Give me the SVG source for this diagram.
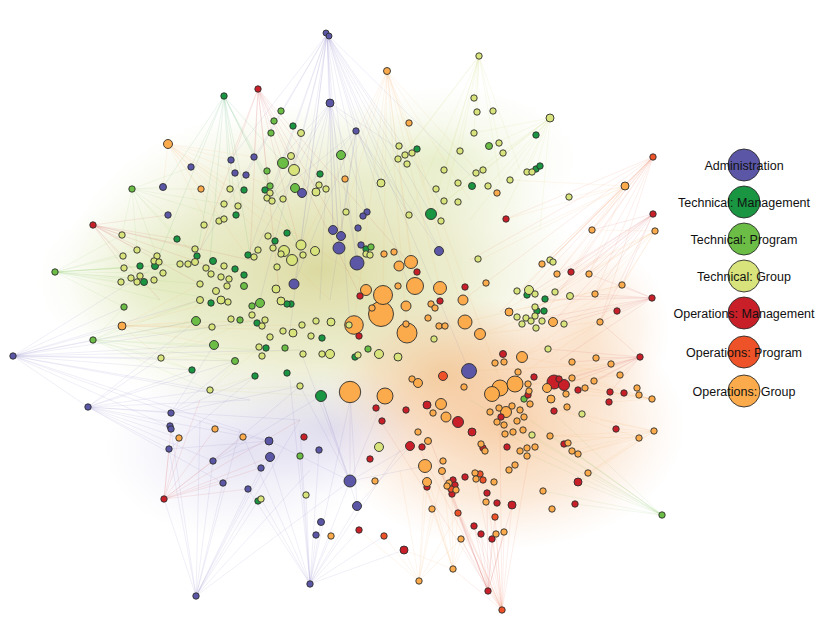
<svg xmlns="http://www.w3.org/2000/svg" width="831" height="630" viewBox="0 0 831 630">
<style>
circle{stroke:#2e2e2e;stroke-width:0.9}
.a{fill:#5b57a6}.tm{fill:#1a9541}.tp{fill:#6bbd45}.tg{fill:#d8e37c}.om{fill:#c91f28}.op{fill:#ee5228}.og{fill:#fbab4c}
.e{fill:none;stroke-width:0.45;stroke-opacity:0.22}
.ea{stroke:#6a5fb5}.etm{stroke:#1a9541}.etp{stroke:#7cc050}.etg{stroke:#c0cc50}.eom{stroke:#d03030}.eop{stroke:#ee6030}.eog{stroke:#f0a050}
.lg text{font-family:"Liberation Sans",Arial,sans-serif;font-size:12.5px;fill:#111;text-anchor:middle}
</style>
<defs>
<radialGradient id="gy"><stop offset="0" stop-color="#cbc874" stop-opacity="0.68"/><stop offset="0.55" stop-color="#d6d998" stop-opacity="0.45"/><stop offset="1" stop-color="#e0e4b0" stop-opacity="0"/></radialGradient>
<radialGradient id="go"><stop offset="0" stop-color="#f0a860" stop-opacity="0.55"/><stop offset="0.6" stop-color="#f4bc88" stop-opacity="0.32"/><stop offset="1" stop-color="#f8d0b0" stop-opacity="0"/></radialGradient>
<radialGradient id="gp"><stop offset="0" stop-color="#b4acd8" stop-opacity="0.35"/><stop offset="1" stop-color="#c8c0e4" stop-opacity="0"/></radialGradient>
<radialGradient id="gg"><stop offset="0" stop-color="#d0e09a" stop-opacity="0.4"/><stop offset="1" stop-color="#e0ecc0" stop-opacity="0"/></radialGradient>
</defs>
<rect width="831" height="630" fill="#ffffff"/>
<g id="haze">
<ellipse cx="320" cy="270" rx="255" ry="168" fill="url(#gy)"/>
<ellipse cx="160" cy="280" rx="125" ry="85" fill="url(#gg)"/>
<ellipse cx="440" cy="160" rx="140" ry="75" fill="url(#gg)"/>
<ellipse cx="505" cy="425" rx="180" ry="125" fill="url(#go)"/>
<ellipse cx="445" cy="375" rx="120" ry="85" fill="url(#go)" opacity="0.7"/>
<ellipse cx="590" cy="330" rx="80" ry="90" fill="url(#go)" opacity="0.5"/>
<ellipse cx="240" cy="450" rx="135" ry="90" fill="url(#gp)"/>
<ellipse cx="330" cy="430" rx="95" ry="65" fill="url(#gp)"/>
</g>
<g id="connectors">
<path class="e ea" d="M327 34L230 160M327 34L246 175M327 34L270 200M327 34L294 170M327 34L302 193M327 34L330 103M327 34L333 230M327 34L339 248M327 34L357 263M327 34L356 131M327 34L367 212M327 34L381 183M327 34L399 146M327 34L409 215M327 34L431 214M327 34L440 251M327 34L469 371M327 34L300 250M327 34L350 325M327 34L260 300M327 34L410 290M327 34L290 330M327 34L440 200M327 34L470 175M327 34L200 250M327 34L250 250"/>
<path class="e eog" d="M387 71L345 179M387 71L381 183M387 71L409 123M387 71L383 295M387 71L411 262M387 71L440 288M387 71L497 193M387 71L354 325M387 71L407 333M387 71L415 286M387 71L300 250M387 71L340 230M387 71L460 300M387 71L430 200M387 71L470 200M387 71L500 380"/>
<path class="e eom" d="M258 89L230 160M258 89L254 157M258 89L283 163M258 89L294 170M258 89L270 200M258 89L300 250M258 89L320 174M258 89L340 230M258 89L360 296M258 89L417 272M258 89L250 260M258 89L200 250M258 89L280 300"/>
<path class="e etm" d="M224 96L163 187M224 96L191 167M224 96L230 189M224 96L244 190M224 96L236 215M224 96L270 186M224 96L283 163M224 96L210 260M224 96L250 255M224 96L155 266M224 96L197 256M224 96L300 250M224 96L280 200"/>
<path class="e ea" d="M330 103L302 193M330 103L333 230M330 103L339 248M330 103L357 263M330 103L356 131M330 103L294 284M330 103L270 200M330 103L367 212M330 103L400 150M330 103L280 160M330 103L320 300M330 103L250 260"/>
<path class="e ea" d="M356 131L339 248M356 131L357 263M356 131L302 193M356 131L294 284M356 131L381 183M356 131L409 215M356 131L440 251M356 131L270 200M356 131L330 300"/>
<path class="e etg" d="M479 56L474 98M479 56L477 112M479 56L460 151M479 56L474 133M479 56L445 170M479 56L499 143M479 56L431 214M479 56L409 215M479 56L381 183M479 56L520 170M479 56L440 220M479 56L500 180M479 56L400 160"/>
<path class="e etg" d="M550 118L474 133M550 118L489 146M550 118L503 153M550 118L527 172M550 118L536 169M550 118L488 186M550 118L458 183M550 118L510 180M550 118L445 201M550 118L430 214M550 118L470 220M550 118L536 135M550 118L500 220M550 118L540 230"/>
<path class="e eop" d="M653 157L592 230M653 157L625 186M653 157L589 274M653 157L557 274M653 157L542 264M653 157L550 260M653 157L506 219M653 157L571 272M653 157L595 294M653 157L530 290M653 157L500 312M653 157L463 300M653 157L540 320M653 157L600 322M653 157L470 260"/>
<path class="e eog" d="M625 186L592 230M625 186L569 197M625 186L542 264M625 186L557 274M625 186L506 219M625 186L510 180M625 186L589 274M625 186L550 260M625 186L520 290M625 186L480 260M625 186L530 230M625 186L570 272"/>
<path class="e eom" d="M653 214L592 230M653 214L589 274M653 214L571 272M653 214L595 294M653 214L557 274M653 214L622 285M653 214L545 299M653 214L535 310M653 214L600 322M653 214L553 322M653 214L520 300"/>
<path class="e eog" d="M655 231L592 230M655 231L589 274M655 231L571 272M655 231L595 294M655 231L622 285M655 231L545 299M655 231L535 310M655 231L600 322M655 231L553 322M655 231L500 312"/>
<path class="e eom" d="M652 298L622 285M652 298L600 322M652 298L617 311M652 298L595 294M652 298L564 324M652 298L553 322M652 298L589 274M652 298L570 296M652 298L545 300M652 298L530 320M652 298L560 360"/>
<path class="e eog" d="M622 285L553 322M622 285L509 312M622 285L480 334M622 285L522 357M622 285L465 322M600 322L522 357M600 322L480 334M600 322L500 388M611 364L515 384M611 364L492 394M611 364L469 371M620 375L500 388M620 375L522 357"/>
<path class="e eom" d="M640 357L611 364M640 357L596 358M640 357L620 375M640 357L594 381M640 357L572 362M640 357L564 385M640 357L554 382M640 357L572 378M640 357L610 392M640 357L548 349M640 357L600 322M640 357L580 390"/>
<path class="e eog" d="M652 399L637 388M652 399L624 393M652 399L610 392M652 399L609 402M652 399L585 388M652 399L572 378M652 399L566 394M652 399L554 382M652 399L594 381M652 399L578 390"/>
<path class="e eog" d="M654 431L616 429M654 431L588 473M654 431L578 454M654 431L572 451M654 431L568 443M654 431L550 436M654 431L578 482M654 431L600 420M654 431L560 410M639 438L588 473M639 438L578 454M639 438L550 436M639 438L560 410"/>
<path class="e etp" d="M662 515L578 482M662 515L588 473M662 515L550 436M662 515L572 451M662 515L532 435M662 515L543 491M662 515L575 504M662 515L520 450M662 515L500 430M662 515L550 410M662 515L470 400M662 515L530 420"/>
<path class="e eop" d="M502 610L488 591M502 610L453 569M502 610L474 526M502 610L481 534M502 610L492 539M502 610L496 534M502 610L504 532M502 610L461 539M502 610L458 513M502 610L495 517M502 610L512 505M502 610L487 493M502 610L452 494M502 610L475 473M502 610L440 470M502 610L420 450M502 610L500 430M502 610L530 450M502 610L380 420"/>
<path class="e eom" d="M488 591L474 526M488 591L481 534M488 591L492 539M488 591L461 539M488 591L458 513M488 591L495 517M488 591L512 505M488 591L487 493M488 591L504 532M488 591L452 494M488 591L440 470M488 591L430 440"/>
<path class="e eog" d="M453 569L461 539M453 569L458 513M453 569L452 494M453 569L432 509M453 569L427 487M453 569L443 472M453 569L425 466M453 569L474 526M453 569L404 550M453 569L420 470"/>
<path class="e eog" d="M419 581L404 550M419 581L432 509M419 581L427 487M419 581L443 472M419 581L461 539M419 581L458 513M419 581L384 536M419 581L359 530M419 581L425 466M419 581L400 470"/>
<path class="e ea" d="M310 584L321 522M310 584L316 535M310 584L331 536M310 584L357 506M310 584L350 481M310 584L359 530M310 584L384 536M310 584L306 495M310 584L300 456M310 584L261 499M310 584L248 489M310 584L270 457M310 584L319 450M310 584L350 400M310 584L300 430M310 584L400 450M310 584L404 550M310 584L290 380M310 584L240 430"/>
<path class="e ea" d="M350 481L300 386M350 481L350 392M350 481L385 396M350 481L321 396M350 481L410 446M350 481L270 441M350 481L425 466M350 481L300 350M357 506L350 392M357 506L410 446M357 506L321 396"/>
<path class="e ea" d="M196 596L169 449M196 596L171 429M196 596L213 461M196 596L223 483M196 596L248 489M196 596L258 501M196 596L261 468M196 596L164 499M196 596L270 457M196 596L310 470M196 596L350 481M196 596L240 430M196 596L300 420M196 596L200 420"/>
<path class="e eom" d="M164 499L169 449M164 499L171 429M164 499L213 461M164 499L223 483M164 499L248 489M164 499L179 438M164 499L215 429M164 499L243 437M164 499L270 457M164 499L300 420M164 499L200 400M164 499L260 468"/>
<path class="e ea" d="M13 356L88 407M13 356L93 340M13 356L124 307M13 356L122 326M13 356L161 358M13 356L171 413M13 356L192 370M13 356L196 321M13 356L210 390M13 356L200 300M13 356L214 345M13 356L235 361M13 356L250 400M13 356L170 427M13 356L300 350M13 356L240 430M13 356L260 320M13 356L150 270"/>
<path class="e ea" d="M88 407L169 449M88 407L171 413M88 407L170 427M88 407L161 358M88 407L192 370M88 407L210 390M88 407L213 461M88 407L223 483M88 407L196 321M88 407L250 400M88 407L270 441M88 407L300 420M88 407L235 361M88 407L179 438"/>
<path class="e ea" d="M171 413L235 361M171 413L255 376M171 413L270 441M171 413L300 386M171 413L214 345M169 449L255 376M169 449L269 441M213 461L269 441M213 461L300 386M213 461L321 396"/>
<path class="e etp" d="M55 272L121 282M55 272L124 268M55 272L131 278M55 272L122 235M55 272L137 250M55 272L123 256M55 272L140 266M55 272L155 266M55 272L163 273M55 272L144 282M55 272L124 307M55 272L200 284M55 272L180 264M55 272L220 300M55 272L160 300"/>
<path class="e eom" d="M93 225L122 235M93 225L123 256M93 225L137 250M93 225L157 256M93 225L168 215M93 225L124 268M93 225L177 239M93 225L195 249M93 225L200 284M93 225L220 270M93 225L160 300M93 225L250 260"/>
<path class="e eog" d="M168 144L191 167M168 144L201 189M168 144L163 187M168 144L230 189M168 144L231 160M168 144L244 190M168 144L254 157M168 144L224 204M168 144L270 186M168 144L300 250M168 144L330 300M168 144L383 295M168 144L250 260M168 144L210 230"/>
<path class="e etp" d="M132 189L163 187M132 189L168 215M132 189L191 167M132 189L201 189M132 189L177 239M132 189L224 204M132 189L137 250M132 189L157 256M132 189L122 235M132 189L200 260M132 189L230 220"/>
<path class="e eog" d="M122 326L161 358M122 326L196 321M122 326L200 300M122 326L212 327M122 326L214 345M122 326L200 284M122 326L221 300M122 326L260 320M122 326L300 330M122 326L354 325"/>
<path class="e etp" d="M93 340L161 358M93 340L196 321M93 340L212 327M93 340L214 345M93 340L192 370M93 340L210 390M93 340L200 300M93 340L124 307M93 340L122 326M93 340L235 361M93 340L260 350"/>
<path class="e etg" d="M161 358L200 300M161 358L250 320M161 358L212 327M161 358L192 370M161 358L235 361M161 358L300 350M210 390L255 376M210 390L300 386M210 390L235 361M210 390L260 347M210 390L321 396"/>
</g>
<g id="nodes">
<g id="n1"><circle class="og" cx="381" cy="314" r="12.5"/></g>
<g id="n2"><circle class="og" cx="350" cy="392" r="10.7"/></g>
<g id="n3"><circle class="og" cx="407" cy="333" r="10"/></g>
<g id="n4"><circle class="og" cx="383" cy="295" r="9.5"/></g>
<g id="n5"><circle class="og" cx="354" cy="325" r="9.3"/></g>
<g id="n6"><circle class="og" cx="415" cy="286" r="8.5"/></g>
<g id="n7"><circle class="og" cx="500" cy="388" r="8"/></g>
<g id="n8"><circle class="og" cx="515" cy="384" r="8"/></g>
<g id="n9"><circle class="og" cx="385" cy="396" r="8"/></g>
<g id="n10"><circle class="og" cx="492" cy="394" r="7.5"/></g>
<g id="n11"><circle class="og" cx="465" cy="322" r="7"/></g>
<g id="n12"><circle class="og" cx="411" cy="262" r="6.5"/></g>
<g id="n13"><circle class="og" cx="440" cy="288" r="6.5"/></g>
<g id="n14"><circle class="og" cx="425" cy="466" r="6.5"/></g>
<g id="n15"><circle class="og" cx="366" cy="290" r="5.5"/></g>
<g id="n16"><circle class="og" cx="441" cy="404" r="5.5"/></g>
<g id="n17"><circle class="og" cx="480" cy="334" r="5.5"/></g>
<g id="n18"><circle class="og" cx="522" cy="357" r="5.5"/></g>
<g id="n19"><circle class="og" cx="506" cy="412" r="5.5"/></g>
<g id="n20"><circle class="og" cx="399" cy="266" r="5"/></g>
<g id="n21"><circle class="og" cx="406" cy="306" r="5"/></g>
<g id="n22"><circle class="og" cx="463" cy="300" r="5"/></g>
<g id="n23"><circle class="og" cx="446" cy="417" r="5"/></g>
<g id="n24"><circle class="a" cx="469" cy="371" r="7.5"/></g>
<g id="n25"><circle class="a" cx="357" cy="263" r="7"/></g>
<g id="n26"><circle class="a" cx="339" cy="248" r="6"/></g>
<g id="n27"><circle class="a" cx="350" cy="481" r="6"/></g>
<g id="n28"><circle class="a" cx="294" cy="284" r="5"/></g>
<g id="n29"><circle class="om" cx="554" cy="382" r="7"/></g>
<g id="n30"><circle class="om" cx="564" cy="385" r="5.5"/></g>
<g id="n31"><circle class="om" cx="458" cy="422" r="5.5"/></g>
<g id="n32"><circle class="tm" cx="431" cy="214" r="5.5"/></g>
<g id="n33"><circle class="tm" cx="321" cy="396" r="5.5"/></g>
<g id="n34"><circle class="tp" cx="283" cy="163" r="5.5"/></g>
<g id="n35"><circle class="tg" cx="294" cy="170" r="5.5"/></g>
<g id="n36"><circle class="tg" cx="284" cy="251" r="5.5"/></g>
<g id="n37"><circle class="tg" cx="292" cy="260" r="5.5"/></g>
<g id="n38"><circle class="tg" cx="301" cy="245" r="5"/></g>
<g id="n39"><circle class="a" cx="326" cy="33" r="3"/></g>
<g id="n40"><circle class="a" cx="329" cy="36" r="3"/></g>
<g id="n41"><circle class="a" cx="330" cy="103" r="4"/></g>
<g id="n42"><circle class="a" cx="356" cy="131" r="3.2"/></g>
<g id="n43"><circle class="a" cx="191" cy="167" r="3.2"/></g>
<g id="n44"><circle class="a" cx="163" cy="187" r="3.5"/></g>
<g id="n45"><circle class="a" cx="168" cy="215" r="3.2"/></g>
<g id="n46"><circle class="a" cx="231" cy="160" r="3.2"/></g>
<g id="n47"><circle class="a" cx="254" cy="157" r="3.2"/></g>
<g id="n48"><circle class="a" cx="235" cy="173" r="3.2"/></g>
<g id="n49"><circle class="a" cx="246" cy="175" r="3.2"/></g>
<g id="n50"><circle class="a" cx="302" cy="193" r="4.5"/></g>
<g id="n51"><circle class="a" cx="367" cy="212" r="3.2"/></g>
<g id="n52"><circle class="a" cx="363" cy="216" r="3.2"/></g>
<g id="n53"><circle class="a" cx="333" cy="230" r="4.5"/></g>
<g id="n54"><circle class="a" cx="341" cy="236" r="4.5"/></g>
<g id="n55"><circle class="a" cx="358" cy="228" r="3.2"/></g>
<g id="n56"><circle class="a" cx="361" cy="245" r="3.2"/></g>
<g id="n57"><circle class="a" cx="439" cy="251" r="4.5"/></g>
<g id="n58"><circle class="a" cx="13" cy="356" r="3.2"/></g>
<g id="n59"><circle class="a" cx="88" cy="407" r="3.2"/></g>
<g id="n60"><circle class="a" cx="171" cy="413" r="3.2"/></g>
<g id="n61"><circle class="a" cx="170" cy="426" r="3.2"/></g>
<g id="n62"><circle class="a" cx="171" cy="429" r="3.2"/></g>
<g id="n63"><circle class="a" cx="169" cy="449" r="3.2"/></g>
<g id="n64"><circle class="a" cx="213" cy="461" r="3.2"/></g>
<g id="n65"><circle class="a" cx="223" cy="483" r="3.2"/></g>
<g id="n66"><circle class="a" cx="196" cy="596" r="3.2"/></g>
<g id="n67"><circle class="a" cx="269" cy="441" r="4"/></g>
<g id="n68"><circle class="a" cx="270" cy="457" r="4.5"/></g>
<g id="n69"><circle class="a" cx="319" cy="450" r="3.2"/></g>
<g id="n70"><circle class="a" cx="261" cy="468" r="3.2"/></g>
<g id="n71"><circle class="a" cx="248" cy="489" r="3.2"/></g>
<g id="n72"><circle class="a" cx="357" cy="506" r="4.5"/></g>
<g id="n73"><circle class="a" cx="321" cy="522" r="3.5"/></g>
<g id="n74"><circle class="a" cx="316" cy="535" r="3.2"/></g>
<g id="n75"><circle class="a" cx="310" cy="584" r="3.2"/></g>
<g id="n76"><circle class="tm" cx="224" cy="96" r="3.2"/></g>
<g id="n77"><circle class="tm" cx="293" cy="126" r="3.2"/></g>
<g id="n78"><circle class="tm" cx="417" cy="149" r="3.2"/></g>
<g id="n79"><circle class="tm" cx="320" cy="174" r="3.2"/></g>
<g id="n80"><circle class="tm" cx="265" cy="190" r="3.2"/></g>
<g id="n81"><circle class="tm" cx="244" cy="190" r="3.2"/></g>
<g id="n82"><circle class="tm" cx="236" cy="215" r="3.2"/></g>
<g id="n83"><circle class="tm" cx="536" cy="135" r="3.2"/></g>
<g id="n84"><circle class="tm" cx="536" cy="169" r="3.2"/></g>
<g id="n85"><circle class="tm" cx="540" cy="166" r="3.2"/></g>
<g id="n86"><circle class="tm" cx="472" cy="186" r="3.5"/></g>
<g id="n87"><circle class="tm" cx="177" cy="239" r="3.2"/></g>
<g id="n88"><circle class="tm" cx="197" cy="256" r="3.2"/></g>
<g id="n89"><circle class="tm" cx="213" cy="261" r="3.5"/></g>
<g id="n90"><circle class="tm" cx="155" cy="266" r="3.5"/></g>
<g id="n91"><circle class="tm" cx="140" cy="266" r="3.2"/></g>
<g id="n92"><circle class="tm" cx="144" cy="282" r="3.5"/></g>
<g id="n93"><circle class="tm" cx="211" cy="303" r="3.2"/></g>
<g id="n94"><circle class="tm" cx="192" cy="370" r="3.2"/></g>
<g id="n95"><circle class="tm" cx="287" cy="233" r="3.2"/></g>
<g id="n96"><circle class="tm" cx="275" cy="241" r="3.2"/></g>
<g id="n97"><circle class="tm" cx="248" cy="255" r="3.2"/></g>
<g id="n98"><circle class="tm" cx="235" cy="269" r="3.2"/></g>
<g id="n99"><circle class="tm" cx="244" cy="275" r="3.2"/></g>
<g id="n100"><circle class="tm" cx="366" cy="249" r="3.2"/></g>
<g id="n101"><circle class="tm" cx="257" cy="323" r="3.2"/></g>
<g id="n102"><circle class="tm" cx="291" cy="304" r="3.2"/></g>
<g id="n103"><circle class="tm" cx="287" cy="304" r="3.2"/></g>
<g id="n104"><circle class="tm" cx="322" cy="338" r="3.2"/></g>
<g id="n105"><circle class="tm" cx="266" cy="348" r="3.2"/></g>
<g id="n106"><circle class="tm" cx="355" cy="357" r="3.2"/></g>
<g id="n107"><circle class="tm" cx="255" cy="376" r="3.2"/></g>
<g id="n108"><circle class="tm" cx="287" cy="373" r="3.2"/></g>
<g id="n109"><circle class="tm" cx="527" cy="295" r="3.2"/></g>
<g id="n110"><circle class="tm" cx="545" cy="299" r="3.2"/></g>
<g id="n111"><circle class="tm" cx="537" cy="311" r="3.2"/></g>
<g id="n112"><circle class="tm" cx="544" cy="311" r="3.2"/></g>
<g id="n113"><circle class="tm" cx="258" cy="501" r="3.2"/></g>
<g id="n114"><circle class="tp" cx="132" cy="189" r="3.2"/></g>
<g id="n115"><circle class="tp" cx="281" cy="111" r="3.2"/></g>
<g id="n116"><circle class="tp" cx="274" cy="121" r="3.2"/></g>
<g id="n117"><circle class="tp" cx="271" cy="133" r="3.2"/></g>
<g id="n118"><circle class="tp" cx="267" cy="171" r="3.2"/></g>
<g id="n119"><circle class="tp" cx="341" cy="155" r="4.5"/></g>
<g id="n120"><circle class="tp" cx="270" cy="186" r="3.2"/></g>
<g id="n121"><circle class="tp" cx="295" cy="188" r="4.5"/></g>
<g id="n122"><circle class="tp" cx="489" cy="146" r="3.5"/></g>
<g id="n123"><circle class="tp" cx="55" cy="272" r="3.2"/></g>
<g id="n124"><circle class="tp" cx="124" cy="307" r="3.2"/></g>
<g id="n125"><circle class="tp" cx="196" cy="321" r="4.5"/></g>
<g id="n126"><circle class="tp" cx="93" cy="340" r="3.2"/></g>
<g id="n127"><circle class="tp" cx="214" cy="345" r="4.5"/></g>
<g id="n128"><circle class="tp" cx="371" cy="247" r="3.2"/></g>
<g id="n129"><circle class="tp" cx="244" cy="286" r="3.5"/></g>
<g id="n130"><circle class="tp" cx="260" cy="303" r="4.5"/></g>
<g id="n131"><circle class="tp" cx="252" cy="306" r="3.2"/></g>
<g id="n132"><circle class="tp" cx="240" cy="320" r="3.2"/></g>
<g id="n133"><circle class="tp" cx="285" cy="348" r="3.2"/></g>
<g id="n134"><circle class="tp" cx="235" cy="361" r="3.5"/></g>
<g id="n135"><circle class="tp" cx="368" cy="349" r="3.2"/></g>
<g id="n136"><circle class="tp" cx="300" cy="456" r="3.2"/></g>
<g id="n137"><circle class="tp" cx="524" cy="399" r="3.2"/></g>
<g id="n138"><circle class="tp" cx="662" cy="515" r="3.2"/></g>
<g id="n139"><circle class="tg" cx="224" cy="204" r="3.2"/></g>
<g id="n140"><circle class="tg" cx="301" cy="133" r="3.5"/></g>
<g id="n141"><circle class="tg" cx="399" cy="146" r="3.2"/></g>
<g id="n142"><circle class="tg" cx="405" cy="155" r="3.2"/></g>
<g id="n143"><circle class="tg" cx="412" cy="153" r="3.2"/></g>
<g id="n144"><circle class="tg" cx="398" cy="159" r="3.2"/></g>
<g id="n145"><circle class="tg" cx="407" cy="164" r="3.2"/></g>
<g id="n146"><circle class="tg" cx="291" cy="156" r="3.5"/></g>
<g id="n147"><circle class="tg" cx="381" cy="183" r="4"/></g>
<g id="n148"><circle class="tg" cx="444" cy="170" r="3.2"/></g>
<g id="n149"><circle class="tg" cx="436" cy="189" r="3.2"/></g>
<g id="n150"><circle class="tg" cx="444" cy="201" r="3.2"/></g>
<g id="n151"><circle class="tg" cx="230" cy="189" r="3.2"/></g>
<g id="n152"><circle class="tg" cx="319" cy="185" r="3.2"/></g>
<g id="n153"><circle class="tg" cx="326" cy="189" r="3.2"/></g>
<g id="n154"><circle class="tg" cx="316" cy="192" r="4"/></g>
<g id="n155"><circle class="tg" cx="270" cy="193" r="3.2"/></g>
<g id="n156"><circle class="tg" cx="267" cy="198" r="3.2"/></g>
<g id="n157"><circle class="tg" cx="272" cy="201" r="3.2"/></g>
<g id="n158"><circle class="tg" cx="283" cy="199" r="3.2"/></g>
<g id="n159"><circle class="tg" cx="238" cy="206" r="3.2"/></g>
<g id="n160"><circle class="tg" cx="346" cy="212" r="3.2"/></g>
<g id="n161"><circle class="tg" cx="409" cy="215" r="3.2"/></g>
<g id="n162"><circle class="tg" cx="441" cy="221" r="3.2"/></g>
<g id="n163"><circle class="tg" cx="479" cy="56" r="3.2"/></g>
<g id="n164"><circle class="tg" cx="474" cy="98" r="3.2"/></g>
<g id="n165"><circle class="tg" cx="477" cy="112" r="3.2"/></g>
<g id="n166"><circle class="tg" cx="493" cy="111" r="3.2"/></g>
<g id="n167"><circle class="tg" cx="550" cy="118" r="4"/></g>
<g id="n168"><circle class="tg" cx="474" cy="133" r="3.2"/></g>
<g id="n169"><circle class="tg" cx="499" cy="143" r="3.2"/></g>
<g id="n170"><circle class="tg" cx="503" cy="153" r="3.2"/></g>
<g id="n171"><circle class="tg" cx="460" cy="151" r="3.2"/></g>
<g id="n172"><circle class="tg" cx="476" cy="173" r="3.2"/></g>
<g id="n173"><circle class="tg" cx="483" cy="170" r="3.2"/></g>
<g id="n174"><circle class="tg" cx="527" cy="172" r="3.2"/></g>
<g id="n175"><circle class="tg" cx="532" cy="172" r="3.2"/></g>
<g id="n176"><circle class="tg" cx="458" cy="183" r="3.2"/></g>
<g id="n177"><circle class="tg" cx="488" cy="186" r="3.2"/></g>
<g id="n178"><circle class="tg" cx="510" cy="180" r="3.2"/></g>
<g id="n179"><circle class="tg" cx="458" cy="202" r="3.2"/></g>
<g id="n180"><circle class="tg" cx="569" cy="197" r="3.2"/></g>
<g id="n181"><circle class="tg" cx="122" cy="235" r="3.2"/></g>
<g id="n182"><circle class="tg" cx="204" cy="225" r="3.2"/></g>
<g id="n183"><circle class="tg" cx="219" cy="221" r="3.2"/></g>
<g id="n184"><circle class="tg" cx="224" cy="219" r="3.2"/></g>
<g id="n185"><circle class="tg" cx="137" cy="250" r="3.2"/></g>
<g id="n186"><circle class="tg" cx="123" cy="256" r="3.2"/></g>
<g id="n187"><circle class="tg" cx="195" cy="249" r="3.2"/></g>
<g id="n188"><circle class="tg" cx="157" cy="256" r="3.2"/></g>
<g id="n189"><circle class="tg" cx="154" cy="261" r="3.2"/></g>
<g id="n190"><circle class="tg" cx="159" cy="262" r="3.2"/></g>
<g id="n191"><circle class="tg" cx="124" cy="268" r="3.2"/></g>
<g id="n192"><circle class="tg" cx="180" cy="264" r="3.2"/></g>
<g id="n193"><circle class="tg" cx="188" cy="264" r="3.2"/></g>
<g id="n194"><circle class="tg" cx="195" cy="262" r="3.5"/></g>
<g id="n195"><circle class="tg" cx="206" cy="268" r="3.2"/></g>
<g id="n196"><circle class="tg" cx="211" cy="274" r="3.2"/></g>
<g id="n197"><circle class="tg" cx="221" cy="277" r="3.2"/></g>
<g id="n198"><circle class="tg" cx="224" cy="266" r="3.2"/></g>
<g id="n199"><circle class="tg" cx="163" cy="273" r="3.2"/></g>
<g id="n200"><circle class="tg" cx="131" cy="278" r="3.2"/></g>
<g id="n201"><circle class="tg" cx="140" cy="276" r="3.2"/></g>
<g id="n202"><circle class="tg" cx="137" cy="282" r="3.2"/></g>
<g id="n203"><circle class="tg" cx="154" cy="280" r="3.2"/></g>
<g id="n204"><circle class="tg" cx="121" cy="282" r="3.2"/></g>
<g id="n205"><circle class="tg" cx="200" cy="284" r="3.2"/></g>
<g id="n206"><circle class="tg" cx="216" cy="291" r="3.5"/></g>
<g id="n207"><circle class="tg" cx="200" cy="300" r="3.5"/></g>
<g id="n208"><circle class="tg" cx="221" cy="300" r="4"/></g>
<g id="n209"><circle class="tg" cx="212" cy="327" r="3.2"/></g>
<g id="n210"><circle class="tg" cx="161" cy="358" r="3.2"/></g>
<g id="n211"><circle class="tg" cx="210" cy="390" r="3.2"/></g>
<g id="n212"><circle class="tg" cx="366" cy="254" r="3.2"/></g>
<g id="n213"><circle class="tg" cx="370" cy="255" r="3.2"/></g>
<g id="n214"><circle class="tg" cx="268" cy="236" r="3.2"/></g>
<g id="n215"><circle class="tg" cx="273" cy="248" r="3.2"/></g>
<g id="n216"><circle class="tg" cx="303" cy="255" r="3.2"/></g>
<g id="n217"><circle class="tg" cx="315" cy="251" r="4.5"/></g>
<g id="n218"><circle class="tg" cx="281" cy="254" r="3.2"/></g>
<g id="n219"><circle class="tg" cx="258" cy="250" r="3.2"/></g>
<g id="n220"><circle class="tg" cx="254" cy="257" r="3.2"/></g>
<g id="n221"><circle class="tg" cx="277" cy="267" r="3.2"/></g>
<g id="n222"><circle class="tg" cx="229" cy="279" r="3.2"/></g>
<g id="n223"><circle class="tg" cx="227" cy="286" r="3.2"/></g>
<g id="n224"><circle class="tg" cx="276" cy="289" r="4"/></g>
<g id="n225"><circle class="tg" cx="281" cy="301" r="4"/></g>
<g id="n226"><circle class="tg" cx="228" cy="302" r="3.2"/></g>
<g id="n227"><circle class="tg" cx="349" cy="325" r="3.2"/></g>
<g id="n228"><circle class="tg" cx="434" cy="339" r="3.2"/></g>
<g id="n229"><circle class="tg" cx="231" cy="319" r="3.2"/></g>
<g id="n230"><circle class="tg" cx="262" cy="326" r="3.2"/></g>
<g id="n231"><circle class="tg" cx="265" cy="320" r="3.2"/></g>
<g id="n232"><circle class="tg" cx="252" cy="315" r="3.2"/></g>
<g id="n233"><circle class="tg" cx="302" cy="325" r="3.2"/></g>
<g id="n234"><circle class="tg" cx="316" cy="321" r="3.2"/></g>
<g id="n235"><circle class="tg" cx="331" cy="322" r="4"/></g>
<g id="n236"><circle class="tg" cx="283" cy="331" r="3.2"/></g>
<g id="n237"><circle class="tg" cx="293" cy="333" r="4"/></g>
<g id="n238"><circle class="tg" cx="270" cy="337" r="3.2"/></g>
<g id="n239"><circle class="tg" cx="311" cy="336" r="3.2"/></g>
<g id="n240"><circle class="tg" cx="259" cy="347" r="3.2"/></g>
<g id="n241"><circle class="tg" cx="262" cy="356" r="3.2"/></g>
<g id="n242"><circle class="tg" cx="303" cy="354" r="3.2"/></g>
<g id="n243"><circle class="tg" cx="322" cy="354" r="3.2"/></g>
<g id="n244"><circle class="tg" cx="330" cy="354" r="4.5"/></g>
<g id="n245"><circle class="tg" cx="358" cy="355" r="3.2"/></g>
<g id="n246"><circle class="tg" cx="379" cy="354" r="4.5"/></g>
<g id="n247"><circle class="tg" cx="398" cy="357" r="4"/></g>
<g id="n248"><circle class="tg" cx="300" cy="386" r="3.2"/></g>
<g id="n249"><circle class="tg" cx="478" cy="259" r="3.2"/></g>
<g id="n250"><circle class="tg" cx="550" cy="260" r="3.2"/></g>
<g id="n251"><circle class="tg" cx="553" cy="262" r="3.2"/></g>
<g id="n252"><circle class="tg" cx="517" cy="291" r="3.2"/></g>
<g id="n253"><circle class="tg" cx="529" cy="290" r="4.5"/></g>
<g id="n254"><circle class="tg" cx="535" cy="294" r="3.2"/></g>
<g id="n255"><circle class="tg" cx="555" cy="292" r="3.2"/></g>
<g id="n256"><circle class="tg" cx="570" cy="296" r="3.5"/></g>
<g id="n257"><circle class="tg" cx="535" cy="307" r="3.2"/></g>
<g id="n258"><circle class="tg" cx="535" cy="316" r="3.2"/></g>
<g id="n259"><circle class="tg" cx="517" cy="317" r="3.2"/></g>
<g id="n260"><circle class="tg" cx="526" cy="318" r="3.2"/></g>
<g id="n261"><circle class="tg" cx="522" cy="324" r="3.2"/></g>
<g id="n262"><circle class="tg" cx="531" cy="321" r="3.2"/></g>
<g id="n263"><circle class="tg" cx="542" cy="321" r="3.2"/></g>
<g id="n264"><circle class="tg" cx="536" cy="328" r="3.2"/></g>
<g id="n265"><circle class="tg" cx="564" cy="324" r="3.2"/></g>
<g id="n266"><circle class="tg" cx="548" cy="349" r="3.2"/></g>
<g id="n267"><circle class="tg" cx="582" cy="414" r="3.2"/></g>
<g id="n268"><circle class="tg" cx="261" cy="499" r="3.2"/></g>
<g id="n269"><circle class="tg" cx="306" cy="495" r="3.2"/></g>
<g id="n270"><circle class="tg" cx="379" cy="447" r="4.5"/></g>
<g id="n271"><circle class="tg" cx="532" cy="435" r="3.2"/></g>
<g id="n272"><circle class="om" cx="258" cy="89" r="3.2"/></g>
<g id="n273"><circle class="om" cx="506" cy="219" r="3.2"/></g>
<g id="n274"><circle class="om" cx="653" cy="214" r="3.2"/></g>
<g id="n275"><circle class="om" cx="93" cy="225" r="3.2"/></g>
<g id="n276"><circle class="om" cx="417" cy="272" r="3.2"/></g>
<g id="n277"><circle class="om" cx="360" cy="296" r="3.2"/></g>
<g id="n278"><circle class="om" cx="440" cy="301" r="3.2"/></g>
<g id="n279"><circle class="om" cx="359" cy="336" r="3.2"/></g>
<g id="n280"><circle class="om" cx="376" cy="408" r="3.2"/></g>
<g id="n281"><circle class="om" cx="406" cy="410" r="3.2"/></g>
<g id="n282"><circle class="om" cx="427" cy="405" r="4"/></g>
<g id="n283"><circle class="om" cx="571" cy="272" r="3.2"/></g>
<g id="n284"><circle class="om" cx="465" cy="287" r="3.2"/></g>
<g id="n285"><circle class="om" cx="652" cy="298" r="3.2"/></g>
<g id="n286"><circle class="om" cx="617" cy="311" r="3.2"/></g>
<g id="n287"><circle class="om" cx="503" cy="354" r="3.5"/></g>
<g id="n288"><circle class="om" cx="640" cy="357" r="3.2"/></g>
<g id="n289"><circle class="om" cx="559" cy="379" r="3.2"/></g>
<g id="n290"><circle class="om" cx="534" cy="377" r="3.2"/></g>
<g id="n291"><circle class="om" cx="578" cy="390" r="3.2"/></g>
<g id="n292"><circle class="om" cx="610" cy="392" r="3.2"/></g>
<g id="n293"><circle class="om" cx="624" cy="393" r="3.2"/></g>
<g id="n294"><circle class="om" cx="609" cy="402" r="3.2"/></g>
<g id="n295"><circle class="om" cx="528" cy="395" r="3.2"/></g>
<g id="n296"><circle class="om" cx="554" cy="411" r="3.2"/></g>
<g id="n297"><circle class="om" cx="164" cy="499" r="3.2"/></g>
<g id="n298"><circle class="om" cx="304" cy="437" r="3.2"/></g>
<g id="n299"><circle class="om" cx="359" cy="530" r="3.2"/></g>
<g id="n300"><circle class="om" cx="404" cy="550" r="4"/></g>
<g id="n301"><circle class="om" cx="382" cy="421" r="3.2"/></g>
<g id="n302"><circle class="om" cx="410" cy="446" r="4.5"/></g>
<g id="n303"><circle class="om" cx="422" cy="447" r="3.2"/></g>
<g id="n304"><circle class="om" cx="370" cy="459" r="3.2"/></g>
<g id="n305"><circle class="om" cx="427" cy="487" r="3.2"/></g>
<g id="n306"><circle class="om" cx="472" cy="432" r="4"/></g>
<g id="n307"><circle class="om" cx="501" cy="417" r="3.2"/></g>
<g id="n308"><circle class="om" cx="483" cy="448" r="3.2"/></g>
<g id="n309"><circle class="om" cx="507" cy="447" r="3.2"/></g>
<g id="n310"><circle class="om" cx="564" cy="444" r="3.2"/></g>
<g id="n311"><circle class="om" cx="616" cy="429" r="3.2"/></g>
<g id="n312"><circle class="om" cx="578" cy="482" r="4"/></g>
<g id="n313"><circle class="om" cx="465" cy="477" r="3.2"/></g>
<g id="n314"><circle class="om" cx="453" cy="480" r="3.2"/></g>
<g id="n315"><circle class="om" cx="455" cy="485" r="3.2"/></g>
<g id="n316"><circle class="om" cx="452" cy="494" r="3.2"/></g>
<g id="n317"><circle class="om" cx="487" cy="493" r="3.2"/></g>
<g id="n318"><circle class="om" cx="497" cy="503" r="3.2"/></g>
<g id="n319"><circle class="om" cx="512" cy="505" r="4"/></g>
<g id="n320"><circle class="om" cx="575" cy="504" r="3.2"/></g>
<g id="n321"><circle class="om" cx="474" cy="526" r="3.2"/></g>
<g id="n322"><circle class="om" cx="481" cy="534" r="3.2"/></g>
<g id="n323"><circle class="om" cx="492" cy="539" r="3.2"/></g>
<g id="n324"><circle class="om" cx="488" cy="591" r="3.2"/></g>
<g id="n325"><circle class="op" cx="653" cy="157" r="3.2"/></g>
<g id="n326"><circle class="op" cx="443" cy="376" r="4.5"/></g>
<g id="n327"><circle class="op" cx="384" cy="536" r="3.2"/></g>
<g id="n328"><circle class="op" cx="480" cy="474" r="3.2"/></g>
<g id="n329"><circle class="op" cx="483" cy="480" r="3.2"/></g>
<g id="n330"><circle class="op" cx="451" cy="489" r="3.2"/></g>
<g id="n331"><circle class="op" cx="458" cy="513" r="3.2"/></g>
<g id="n332"><circle class="op" cx="495" cy="517" r="3.2"/></g>
<g id="n333"><circle class="op" cx="502" cy="610" r="3.2"/></g>
<g id="n334"><circle class="og" cx="168" cy="144" r="4.5"/></g>
<g id="n335"><circle class="og" cx="201" cy="189" r="3.2"/></g>
<g id="n336"><circle class="og" cx="387" cy="71" r="3.5"/></g>
<g id="n337"><circle class="og" cx="409" cy="123" r="3.2"/></g>
<g id="n338"><circle class="og" cx="345" cy="179" r="3.2"/></g>
<g id="n339"><circle class="og" cx="497" cy="193" r="3.2"/></g>
<g id="n340"><circle class="og" cx="625" cy="186" r="4"/></g>
<g id="n341"><circle class="og" cx="122" cy="326" r="4"/></g>
<g id="n342"><circle class="og" cx="384" cy="254" r="3.2"/></g>
<g id="n343"><circle class="og" cx="394" cy="252" r="3.2"/></g>
<g id="n344"><circle class="og" cx="398" cy="286" r="3.2"/></g>
<g id="n345"><circle class="og" cx="372" cy="308" r="3.2"/></g>
<g id="n346"><circle class="og" cx="431" cy="304" r="3.2"/></g>
<g id="n347"><circle class="og" cx="435" cy="308" r="3.2"/></g>
<g id="n348"><circle class="og" cx="428" cy="318" r="3.2"/></g>
<g id="n349"><circle class="og" cx="406" cy="324" r="3.2"/></g>
<g id="n350"><circle class="og" cx="439" cy="326" r="3.2"/></g>
<g id="n351"><circle class="og" cx="412" cy="379" r="3.2"/></g>
<g id="n352"><circle class="og" cx="418" cy="383" r="4.5"/></g>
<g id="n353"><circle class="og" cx="592" cy="230" r="3.2"/></g>
<g id="n354"><circle class="og" cx="655" cy="231" r="3.2"/></g>
<g id="n355"><circle class="og" cx="542" cy="264" r="3.2"/></g>
<g id="n356"><circle class="og" cx="557" cy="274" r="3.2"/></g>
<g id="n357"><circle class="og" cx="589" cy="274" r="3.2"/></g>
<g id="n358"><circle class="og" cx="486" cy="283" r="3.2"/></g>
<g id="n359"><circle class="og" cx="622" cy="285" r="3.2"/></g>
<g id="n360"><circle class="og" cx="595" cy="294" r="3.2"/></g>
<g id="n361"><circle class="og" cx="509" cy="312" r="4"/></g>
<g id="n362"><circle class="og" cx="553" cy="322" r="4.5"/></g>
<g id="n363"><circle class="og" cx="600" cy="322" r="3.2"/></g>
<g id="n364"><circle class="og" cx="445" cy="326" r="3.2"/></g>
<g id="n365"><circle class="og" cx="495" cy="363" r="3.2"/></g>
<g id="n366"><circle class="og" cx="504" cy="362" r="3.2"/></g>
<g id="n367"><circle class="og" cx="572" cy="362" r="3.2"/></g>
<g id="n368"><circle class="og" cx="596" cy="358" r="3.2"/></g>
<g id="n369"><circle class="og" cx="611" cy="364" r="3.2"/></g>
<g id="n370"><circle class="og" cx="620" cy="375" r="3.2"/></g>
<g id="n371"><circle class="og" cx="518" cy="372" r="3.2"/></g>
<g id="n372"><circle class="og" cx="572" cy="378" r="3.2"/></g>
<g id="n373"><circle class="og" cx="594" cy="381" r="3.2"/></g>
<g id="n374"><circle class="og" cx="585" cy="388" r="3.2"/></g>
<g id="n375"><circle class="og" cx="547" cy="388" r="4.5"/></g>
<g id="n376"><circle class="og" cx="528" cy="384" r="3.2"/></g>
<g id="n377"><circle class="og" cx="529" cy="391" r="3.2"/></g>
<g id="n378"><circle class="og" cx="464" cy="387" r="3.2"/></g>
<g id="n379"><circle class="og" cx="637" cy="388" r="3.2"/></g>
<g id="n380"><circle class="og" cx="639" cy="395" r="3.2"/></g>
<g id="n381"><circle class="og" cx="652" cy="399" r="3.2"/></g>
<g id="n382"><circle class="og" cx="551" cy="399" r="4"/></g>
<g id="n383"><circle class="og" cx="566" cy="394" r="3.2"/></g>
<g id="n384"><circle class="og" cx="530" cy="404" r="3.2"/></g>
<g id="n385"><circle class="og" cx="567" cy="407" r="3.2"/></g>
<g id="n386"><circle class="og" cx="512" cy="406" r="3.2"/></g>
<g id="n387"><circle class="og" cx="520" cy="410" r="3.2"/></g>
<g id="n388"><circle class="og" cx="499" cy="408" r="3.2"/></g>
<g id="n389"><circle class="og" cx="179" cy="438" r="3.2"/></g>
<g id="n390"><circle class="og" cx="215" cy="429" r="3.2"/></g>
<g id="n391"><circle class="og" cx="243" cy="437" r="3.2"/></g>
<g id="n392"><circle class="og" cx="331" cy="536" r="3.2"/></g>
<g id="n393"><circle class="og" cx="419" cy="581" r="3.2"/></g>
<g id="n394"><circle class="og" cx="418" cy="432" r="3.2"/></g>
<g id="n395"><circle class="og" cx="428" cy="441" r="3.5"/></g>
<g id="n396"><circle class="og" cx="433" cy="413" r="3.2"/></g>
<g id="n397"><circle class="og" cx="443" cy="461" r="3.2"/></g>
<g id="n398"><circle class="og" cx="442" cy="471" r="3.5"/></g>
<g id="n399"><circle class="og" cx="427" cy="482" r="4.5"/></g>
<g id="n400"><circle class="og" cx="375" cy="481" r="3.2"/></g>
<g id="n401"><circle class="og" cx="432" cy="509" r="3.2"/></g>
<g id="n402"><circle class="og" cx="490" cy="412" r="3.2"/></g>
<g id="n403"><circle class="og" cx="497" cy="422" r="3.2"/></g>
<g id="n404"><circle class="og" cx="504" cy="425" r="3.2"/></g>
<g id="n405"><circle class="og" cx="517" cy="421" r="3.2"/></g>
<g id="n406"><circle class="og" cx="524" cy="417" r="3.2"/></g>
<g id="n407"><circle class="og" cx="513" cy="432" r="3.2"/></g>
<g id="n408"><circle class="og" cx="523" cy="430" r="3.2"/></g>
<g id="n409"><circle class="og" cx="505" cy="434" r="3.2"/></g>
<g id="n410"><circle class="og" cx="550" cy="436" r="3.2"/></g>
<g id="n411"><circle class="og" cx="481" cy="444" r="3.2"/></g>
<g id="n412"><circle class="og" cx="485" cy="451" r="3.2"/></g>
<g id="n413"><circle class="og" cx="520" cy="451" r="3.2"/></g>
<g id="n414"><circle class="og" cx="527" cy="448" r="3.2"/></g>
<g id="n415"><circle class="og" cx="535" cy="447" r="3.2"/></g>
<g id="n416"><circle class="og" cx="527" cy="456" r="3.2"/></g>
<g id="n417"><circle class="og" cx="568" cy="443" r="3.2"/></g>
<g id="n418"><circle class="og" cx="572" cy="451" r="3.2"/></g>
<g id="n419"><circle class="og" cx="578" cy="454" r="3.2"/></g>
<g id="n420"><circle class="og" cx="639" cy="438" r="3.2"/></g>
<g id="n421"><circle class="og" cx="654" cy="431" r="3.2"/></g>
<g id="n422"><circle class="og" cx="588" cy="473" r="3.2"/></g>
<g id="n423"><circle class="og" cx="515" cy="465" r="3.2"/></g>
<g id="n424"><circle class="og" cx="509" cy="470" r="3.2"/></g>
<g id="n425"><circle class="og" cx="475" cy="473" r="3.2"/></g>
<g id="n426"><circle class="og" cx="476" cy="479" r="3.2"/></g>
<g id="n427"><circle class="og" cx="449" cy="483" r="3.2"/></g>
<g id="n428"><circle class="og" cx="447" cy="486" r="3.2"/></g>
<g id="n429"><circle class="og" cx="456" cy="490" r="3.2"/></g>
<g id="n430"><circle class="og" cx="494" cy="482" r="3.2"/></g>
<g id="n431"><circle class="og" cx="543" cy="491" r="3.2"/></g>
<g id="n432"><circle class="og" cx="486" cy="502" r="3.2"/></g>
<g id="n433"><circle class="og" cx="552" cy="509" r="3.2"/></g>
<g id="n434"><circle class="og" cx="496" cy="534" r="3.2"/></g>
<g id="n435"><circle class="og" cx="504" cy="532" r="3.2"/></g>
<g id="n436"><circle class="og" cx="461" cy="539" r="3.2"/></g>
<g id="n437"><circle class="og" cx="453" cy="569" r="3.2"/></g>
</g>
<g id="legend" class="lg">
<g id="lg-admin"><circle class="a" cx="744" cy="165" r="16"/><text x="744" y="169.5">Administration</text></g>
<g id="lg-tm"><circle class="tm" cx="744" cy="202" r="16"/><text x="744" y="206.5">Technical: Management</text></g>
<g id="lg-tp"><circle class="tp" cx="744" cy="239" r="16"/><text x="744" y="243.5">Technical: Program</text></g>
<g id="lg-tg"><circle class="tg" cx="744" cy="276" r="16"/><text x="744" y="280.5">Technical: Group</text></g>
<g id="lg-om"><circle class="om" cx="744" cy="313" r="16"/><text x="744" y="317.5">Operations: Management</text></g>
<g id="lg-op"><circle class="op" cx="744" cy="352" r="16"/><text x="744" y="356.5">Operations: Program</text></g>
<g id="lg-og"><circle class="og" cx="744" cy="391" r="16"/><text x="744" y="395.5">Operations: Group</text></g>
</g>
</svg>
